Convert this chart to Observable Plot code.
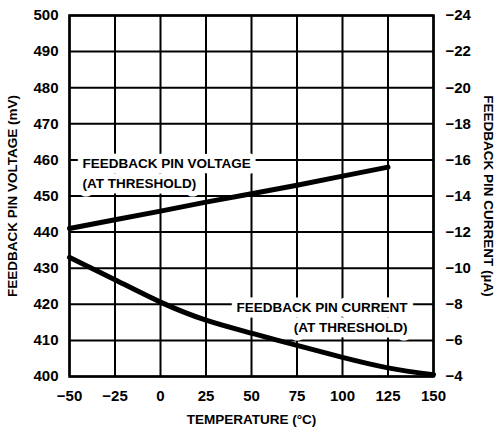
<!DOCTYPE html>
<html><head><meta charset="utf-8">
<script src="https://cdn.jsdelivr.net/npm/d3@7"></script>
<script src="https://cdn.jsdelivr.net/npm/@observablehq/plot@0.6"></script>
<style>body{margin:0;background:#fff}</style>
</head><body><div id="chart"></div>
<script>
// Data
const currentTemps = [-50, -25, 0, 25, 50, 75, 100, 125, 150];
const currentUA = [-10.6, -9.36, -8.12, -7.12, -6.4, -5.72, -5.06, -4.48, -4.1];
const voltageTemps = [-50, -25, 0, 25, 50, 75, 100, 125];
const voltageMV = [441, 443.4, 445.8, 448.3, 450.6, 453, 455.5, 458];
const xTicks = [-50, -25, 0, 25, 50, 75, 100, 125, 150];
const voltageTicks = [400, 410, 420, 430, 440, 450, 460, 470, 480, 490, 500];
const currentTicks = [-4, -6, -8, -10, -12, -14, -16, -18, -20, -22, -24];

// Annotation labels (data coordinates: temperature, mV)
const labelText = ["FEEDBACK PIN VOLTAGE", "(AT THRESHOLD)", "FEEDBACK PIN CURRENT", "(AT THRESHOLD)"];
const labelX = [-42.9, -42.9, 135.7, 135.7];
const labelY = [459, 453.5, 419.1, 413.6];
const labelAnchor = ["start", "start", "end", "end"];

// Right axis maps current (µA) onto the voltage scale: -4 µA ↔ 400 mV, -24 µA ↔ 500 mV
const uaToMv = (c) => 400 + (-4 - c) * 5;
const mvToUa = (v) => -4 - (v - 400) / 5;
const fmt = (n) => (n < 0 ? "\u2212" + Math.abs(n) : String(n));

const voltageData = voltageTemps.map((t, i) => ({t, v: voltageMV[i]}));
const currentData = currentTemps.map((t, i) => ({t, c: currentUA[i]}));
const labels = labelText.map((s, i) => ({s, x: labelX[i], y: labelY[i], a: labelAnchor[i]}));

const FONT = "'Liberation Sans', Arial, sans-serif";

const chart = Plot.plot({
  width: 497,
  height: 435,
  marginTop: 15,
  marginBottom: 59,
  marginLeft: 69,
  marginRight: 64,
  style: {fontFamily: FONT, fontSize: "14px", fontWeight: "bold", color: "black", background: "white"},
  x: {domain: [-50, 150]},
  y: {domain: [400, 500]},
  marks: [
    Plot.gridX(xTicks, {stroke: "black", strokeOpacity: 1, strokeWidth: 2}),
    Plot.gridY(voltageTicks, {stroke: "black", strokeOpacity: 1, strokeWidth: 2}),
    Plot.text(labels.filter(d => d.a === "start"), {
      x: "x", y: "y", text: "s", textAnchor: "start", lineAnchor: "middle",
      fill: "black", stroke: "white", strokeWidth: 11, fontSize: 13.5
    }),
    Plot.text(labels.filter(d => d.a === "end"), {
      x: "x", y: "y", text: "s", textAnchor: "end", lineAnchor: "middle",
      fill: "black", stroke: "white", strokeWidth: 11, fontSize: 13.5
    }),
    Plot.line(voltageData, {x: "t", y: "v", stroke: "black", strokeWidth: 5}),
    Plot.line(currentData, {x: "t", y: (d) => uaToMv(d.c), stroke: "black", strokeWidth: 5, curve: "natural"}),
    Plot.frame({stroke: "black", strokeWidth: 2.5}),
    Plot.axisX(xTicks, {anchor: "bottom", tickSize: 0, tickPadding: 14, tickFormat: fmt, label: null, fontSize: 15}),
    Plot.axisY(voltageTicks, {anchor: "left", tickSize: 0, tickPadding: 11, label: null, fontSize: 15}),
    Plot.axisY(currentTicks.map(uaToMv), {anchor: "right", tickSize: 0, tickPadding: 12, tickFormat: (v) => fmt(Math.round(mvToUa(v))), label: null, fontSize: 15}),
    Plot.text(["TEMPERATURE (\u00B0C)"], {frameAnchor: "bottom", dy: 43.5, textAnchor: "middle", lineAnchor: "middle", fontSize: 13.5}),
    Plot.text(["FEEDBACK PIN VOLTAGE (mV)"], {frameAnchor: "left", dx: -56.5, rotate: -90, textAnchor: "middle", lineAnchor: "middle", fontSize: 13.5}),
    Plot.text(["FEEDBACK PIN CURRENT (\u00B5A)"], {frameAnchor: "right", dx: 55, rotate: 90, textAnchor: "middle", lineAnchor: "middle", fontSize: 13.5})
  ]
});
document.getElementById("chart").appendChild(chart);
</script>
</body></html>
